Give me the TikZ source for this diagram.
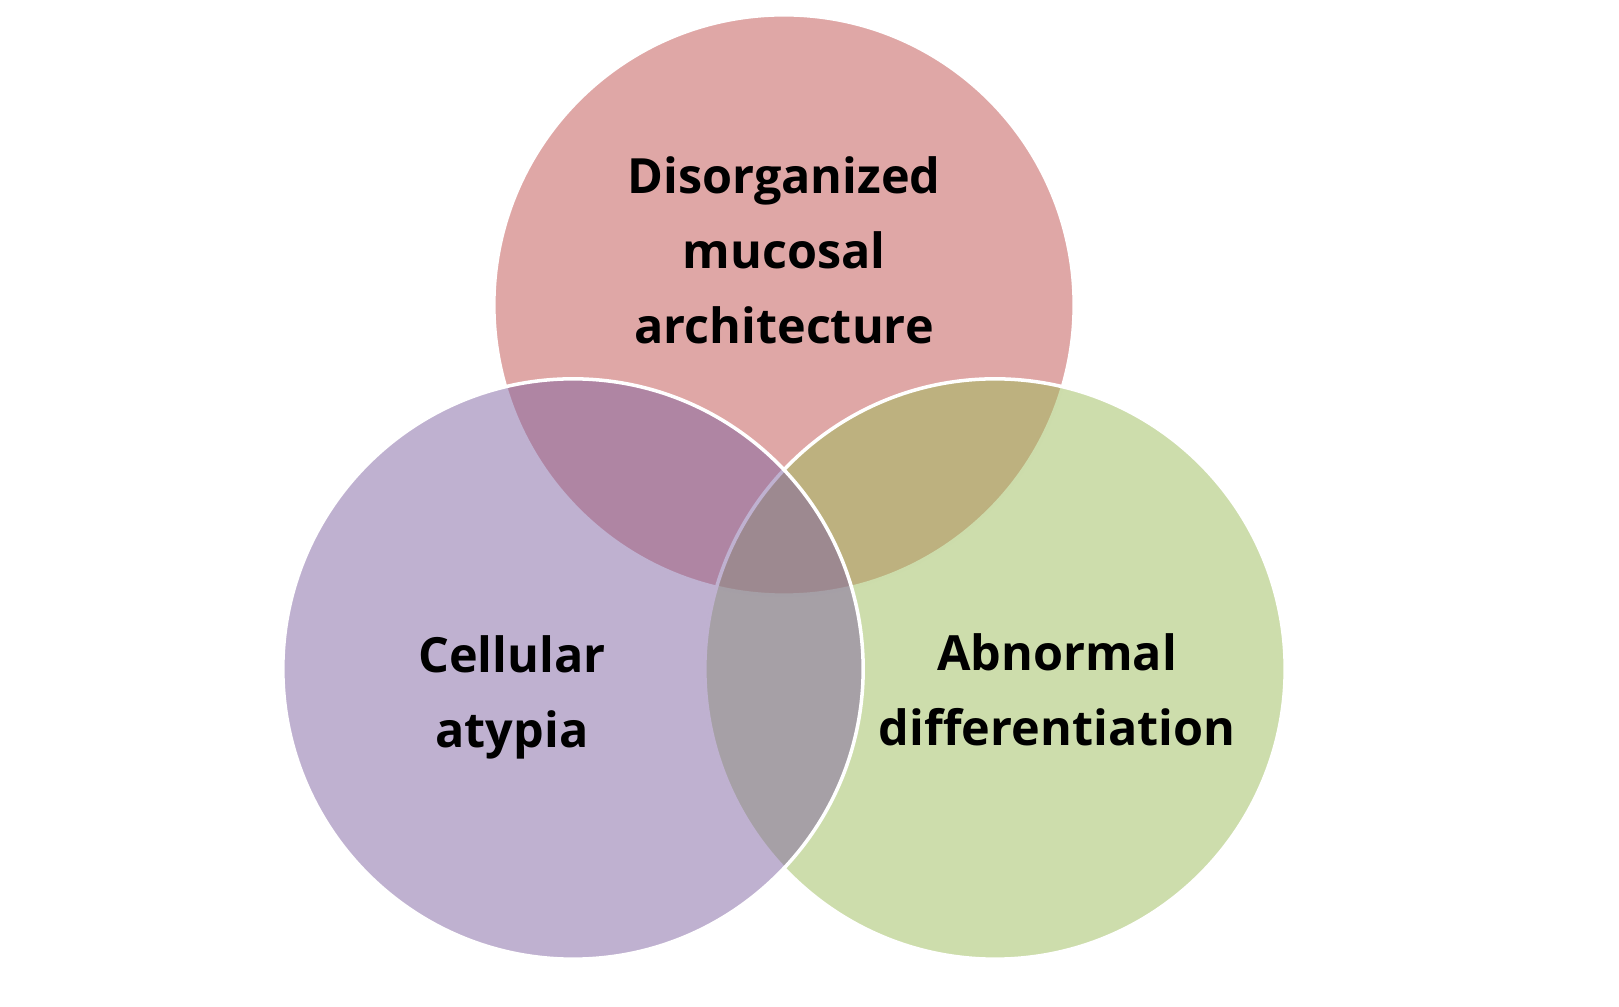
\documentclass[tikz,border=0pt]{standalone}
\usepackage{fontspec}
\setmainfont{Open Sans}
\definecolor{archred}{HTML}{C0504D}
\definecolor{atypurple}{HTML}{8064A2}
\definecolor{diffgreen}{HTML}{9BBB59}
\begin{document}
\begin{tikzpicture}[x=0.01cm,y=-0.01cm]

        \useasboundingbox (0,0) rectangle (1619,1007);

        \begin{scope}[every node/.style={circle, draw=white, line width=1pt, inner sep=0pt, minimum size=5.8cm, fill opacity=.5}]
          \node[fill=archred]   (arch)  at (784,305) {};
          \node[fill=diffgreen] (diff)  at (995,669) {};
          \node[fill=atypurple] (atyp)  at (573,669) {};
        \end{scope}

        \begin{scope}[every node/.style={align=center, font=\fontsize{13.8}{21.3}\selectfont\bfseries}]
          \node (archtext) at (784,250) {Disorganized\\mucosal\\architecture};
          \node (atyptext) at (512,697) {Cellular\\atypia};
          \node (difftext) at (1057,690) {Abnormal\\differentiation};
        \end{scope}

      \end{tikzpicture}
\end{document}
